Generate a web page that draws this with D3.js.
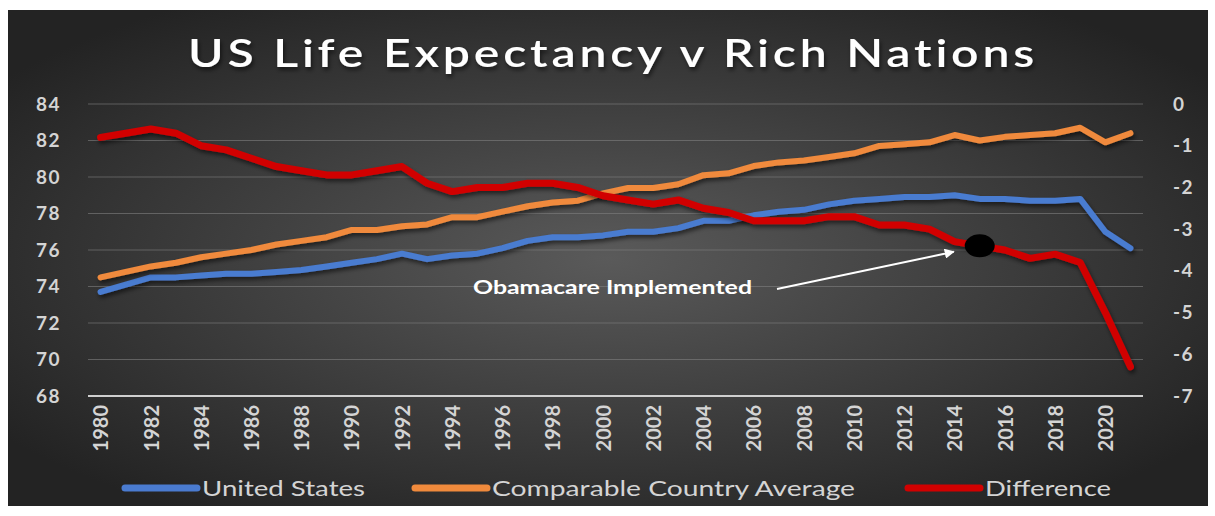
<!DOCTYPE html>
<html>
<head>
<meta charset="utf-8">
<script src="https://cdn.jsdelivr.net/npm/d3@7"></script>
<style>
  body { margin: 0; background: #ffffff; }
  text { font-family: Lato, "Open Sans", sans-serif; }
</style>
</head>
<body>
<div id="chart"></div>
<script>
var svgWidth = 1215;
var svgHeight = 516;

var margin = {
  top: 104,
  right: 72,
  bottom: 120,
  left: 88
};

var width = svgWidth - margin.left - margin.right;
var height = svgHeight - margin.top - margin.bottom;

// data
var years = d3.range(1980, 2022);
var unitedStates = [73.7, 74.1, 74.5, 74.5, 74.6, 74.7, 74.7, 74.8, 74.9, 75.1,
  75.3, 75.5, 75.8, 75.5, 75.7, 75.8, 76.1, 76.5, 76.7, 76.7,
  76.8, 77.0, 77.0, 77.2, 77.6, 77.6, 77.9, 78.1, 78.2, 78.5,
  78.7, 78.8, 78.9, 78.9, 79.0, 78.8, 78.8, 78.7, 78.7, 78.8,
  77.0, 76.1];
var comparable = [74.5, 74.8, 75.1, 75.3, 75.6, 75.8, 76.0, 76.3, 76.5, 76.7,
  77.1, 77.1, 77.3, 77.4, 77.8, 77.8, 78.1, 78.4, 78.6, 78.7,
  79.1, 79.4, 79.4, 79.6, 80.1, 80.2, 80.6, 80.8, 80.9, 81.1,
  81.3, 81.7, 81.8, 81.9, 82.3, 82.0, 82.2, 82.3, 82.4, 82.7,
  81.9, 82.4];
var difference = [-0.8, -0.7, -0.6, -0.7, -1.0, -1.1, -1.3, -1.5, -1.6, -1.7,
  -1.7, -1.6, -1.5, -1.9, -2.1, -2.0, -2.0, -1.9, -1.9, -2.0,
  -2.2, -2.3, -2.4, -2.3, -2.5, -2.6, -2.8, -2.8, -2.8, -2.7,
  -2.7, -2.9, -2.9, -3.0, -3.3, -3.4, -3.5, -3.7, -3.6, -3.8,
  -5.0, -6.3];
var leftTicks = [68, 70, 72, 74, 76, 78, 80, 82, 84];
var rightTicks = [-7, -6, -5, -4, -3, -2, -1, 0];
var seriesNames = ["United States", "Comparable Country Average", "Difference"];
var seriesColors = ["#4a7bd0", "#f08a3c", "#d10000"];
var markedYear = 2015;

var svg = d3.select("#chart")
  .append("svg")
  .attr("width", svgWidth)
  .attr("height", svgHeight);

var defs = svg.append("defs");

var grad = defs.append("radialGradient")
  .attr("id", "bg")
  .attr("cx", "50%").attr("cy", "50%").attr("r", "62%");
grad.append("stop").attr("offset", "0%").attr("stop-color", "#5a5a5a");
grad.append("stop").attr("offset", "100%").attr("stop-color", "#232323");

var shadow = defs.append("filter")
  .attr("id", "shadow")
  .attr("x", "-10%").attr("y", "-10%").attr("width", "120%").attr("height", "130%");
shadow.append("feDropShadow")
  .attr("dx", 1.5).attr("dy", 3).attr("stdDeviation", 2)
  .attr("flood-color", "#000").attr("flood-opacity", 0.55);

defs.append("marker")
  .attr("id", "arrow")
  .attr("viewBox", "0 0 10 10")
  .attr("refX", 9).attr("refY", 5)
  .attr("markerWidth", 5).attr("markerHeight", 5)
  .attr("orient", "auto")
  .append("path")
  .attr("d", "M0,0L10,5L0,10z")
  .attr("fill", "#ffffff");

// chart background
svg.append("rect")
  .attr("x", 8).attr("y", 10)
  .attr("width", 1200).attr("height", 496)
  .attr("fill", "url(#bg)");

var chartGroup = svg.append("g")
  .attr("transform", `translate(${margin.left}, ${margin.top})`);

// scales
var xScale = d3.scalePoint()
  .domain(years)
  .range([0, width])
  .padding(0.5);

var yLeft = d3.scaleLinear()
  .domain([68, 84])
  .range([height, 0]);

var yRight = d3.scaleLinear()
  .domain([-7, 0])
  .range([height, 0]);

// gridlines
chartGroup.selectAll(".grid")
  .data(leftTicks)
  .enter()
  .append("line")
  .attr("x1", 0)
  .attr("x2", width)
  .attr("y1", d => yLeft(d))
  .attr("y2", d => yLeft(d))
  .attr("stroke", d => d === 68 ? "#cfcfcf" : "#808080")
  .attr("stroke-opacity", d => d === 68 ? 1 : 0.6)
  .attr("stroke-width", d => d === 68 ? 2 : 1.2);

// left axis
var leftAxis = d3.axisLeft(yLeft).tickValues(leftTicks).tickSize(0).tickPadding(27);
chartGroup.append("g")
  .call(leftAxis)
  .call(g => g.select(".domain").remove())
  .selectAll("text")
  .attr("fill", "#d4d4d4")
  .attr("font-size", 19)
  .attr("font-weight", "bold")
  .attr("letter-spacing", 1.5)
  .attr("font-family", "Lato, sans-serif");

// right axis
var rightAxis = d3.axisRight(yRight)
  .tickValues(rightTicks)
  .tickFormat(d => String(d))
  .tickSize(0)
  .tickPadding(30);
chartGroup.append("g")
  .attr("transform", `translate(${width}, 0)`)
  .call(rightAxis)
  .call(g => g.select(".domain").remove())
  .selectAll("text")
  .attr("fill", "#d4d4d4")
  .attr("font-size", 19)
  .attr("font-weight", "bold")
  .attr("letter-spacing", 1.5)
  .attr("font-family", "Lato, sans-serif");

// bottom axis, rotated years
var bottomAxis = d3.axisBottom(xScale)
  .tickValues(years.filter(d => d % 2 === 0))
  .tickSize(0)
  .tickPadding(0);
chartGroup.append("g")
  .attr("transform", `translate(0, ${height})`)
  .call(bottomAxis)
  .call(g => g.select(".domain").remove())
  .selectAll("text")
  .attr("fill", "#d4d4d4")
  .attr("font-size", 20)
  .attr("font-weight", "bold")
  .attr("font-family", "Lato, sans-serif")
  .attr("text-anchor", "end")
  .attr("transform", "rotate(-90)")
  .attr("x", -9)
  .attr("y", 0)
  .attr("dy", "0.36em");

// lines
var series = [
  { name: seriesNames[0], values: unitedStates, scale: yLeft, color: seriesColors[0], w: 6 },
  { name: seriesNames[1], values: comparable, scale: yLeft, color: seriesColors[1], w: 6 },
  { name: seriesNames[2], values: difference, scale: yRight, color: seriesColors[2], w: 7 }
];

series.forEach(function(s) {
  var line = d3.line()
    .x((d, i) => xScale(years[i]))
    .y(d => s.scale(d));

  chartGroup.append("path")
    .datum(s.values)
    .attr("d", line)
    .attr("fill", "none")
    .attr("stroke", s.color)
    .attr("stroke-width", s.w)
    .attr("stroke-linejoin", "round")
    .attr("stroke-linecap", "round")
    .attr("filter", "url(#shadow)");
});

// Obamacare marker
var mi = years.indexOf(markedYear);
var dotX = xScale(markedYear);
var dotY = yRight(difference[mi]);

chartGroup.append("ellipse")
  .attr("cx", dotX)
  .attr("cy", dotY)
  .attr("rx", 15)
  .attr("ry", 11.5)
  .attr("fill", "#000000");

chartGroup.append("line")
  .attr("x1", 689)
  .attr("y1", 185)
  .attr("x2", dotX - 26)
  .attr("y2", dotY + 6)
  .attr("stroke", "#ffffff")
  .attr("stroke-width", 2)
  .attr("marker-end", "url(#arrow)");

chartGroup.append("text")
  .attr("x", 385)
  .attr("y", 190)
  .attr("fill", "#ffffff")
  .attr("font-size", 18)
  .attr("font-weight", "bold")
  .attr("textLength", 279)
  .attr("lengthAdjust", "spacingAndGlyphs")
  .text("Obamacare Implemented");

// title
svg.append("text")
  .attr("x", 188)
  .attr("y", 67)
  .attr("fill", "#ffffff")
  .attr("font-size", 38)
  .attr("font-weight", 600)
  .attr("letter-spacing", 3)
  .attr("font-family", "'Open Sans', sans-serif")
  .attr("textLength", 850)
  .attr("lengthAdjust", "spacingAndGlyphs")
  .attr("filter", "url(#shadow)")
  .text("US Life Expectancy v Rich Nations");

// legend
var legendX = [125, 415, 908];
var legendW = [163, 363, 126];
var legend = svg.append("g");
series.forEach(function(s, i) {
  legend.append("line")
    .attr("x1", legendX[i])
    .attr("x2", legendX[i] + 72)
    .attr("y1", 488)
    .attr("y2", 488)
    .attr("stroke", s.color)
    .attr("stroke-width", 7)
    .attr("stroke-linecap", "round");

  legend.append("text")
    .attr("x", legendX[i] + 77)
    .attr("y", 496)
    .attr("fill", "#d4d4d4")
    .attr("font-size", 21)
    .attr("textLength", legendW[i])
    .attr("lengthAdjust", "spacingAndGlyphs")
    .text(s.name);
});
</script>
</body>
</html>
